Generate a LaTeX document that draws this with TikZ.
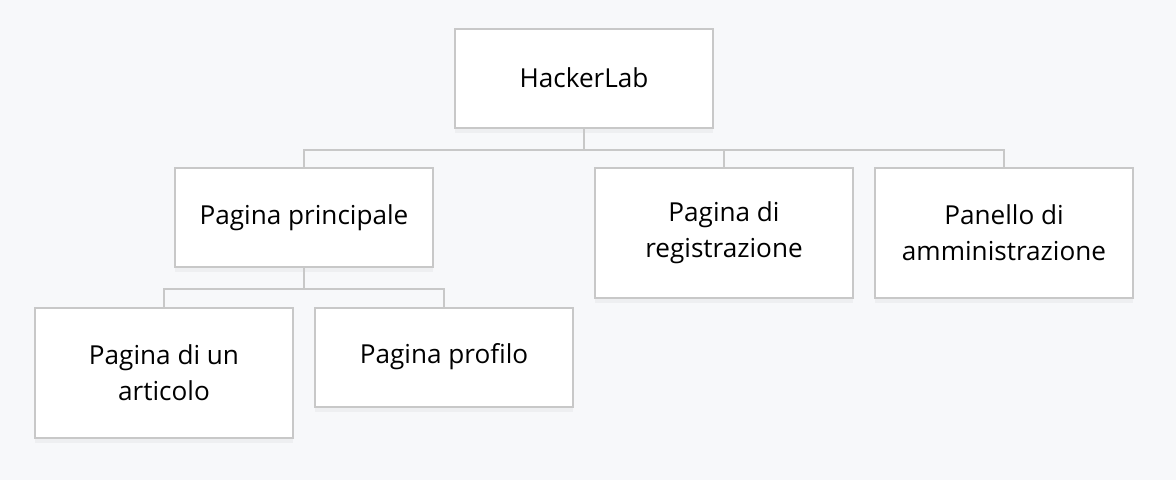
\documentclass[tikz,border=0pt]{standalone}
\usepackage{fontspec}
\setmainfont{Open Sans}
\usetikzlibrary{shadows}

\definecolor{bgcol}{HTML}{F7F8FA}
\definecolor{edgecol}{HTML}{C8C8C8}

\tikzset{
    pagebox/.style={draw=edgecol, line width=1.5pt, fill=white, align=center,
        minimum width=193.5pt, font=\fontsize{19.6}{27}\selectfont,
        drop shadow={opacity=0.07, shadow xshift=0pt, shadow yshift=-4pt}},
    onerow/.style={pagebox, minimum height=74.25pt},
    tworow/.style={pagebox, minimum height=97.5pt},
    link/.style={edgecol, line width=1.5pt}
}

\begin{document}
\begin{tikzpicture}[x=0.75pt, y=-0.75pt]
        \fill[bgcol] (0,0) rectangle (1176,480);

        % top level
        \node[onerow] (hacker) at (584,78) {HackerLab};

        % second level
        \node[onerow] (principale) at (304,217.5) {Pagina principale};
        \node[tworow] (registra) at (724,233) {Pagina di\\registrazione};
        \node[tworow] (admin) at (1004,233) {Panello di\\amministrazione};

        % third level
        \node[tworow] (articolo) at (164,373) {Pagina di un\\articolo};
        \node[onerow] (profilo) at (444,357) {Pagina profilo};

        % connectors
        \coordinate (hubtop) at (584,150);
        \coordinate (hubmid) at (304,289);

        \draw[link] (hacker.south) -- (hubtop);
        \draw[link] (hubtop) -| (principale.north);
        \draw[link] (hubtop) -| (registra.north);
        \draw[link] (hubtop) -| (admin.north);

        \draw[link] (principale.south) -- (hubmid);
        \draw[link] (hubmid) -| (articolo.north);
        \draw[link] (hubmid) -| (profilo.north);

    \end{tikzpicture}
\end{document}
